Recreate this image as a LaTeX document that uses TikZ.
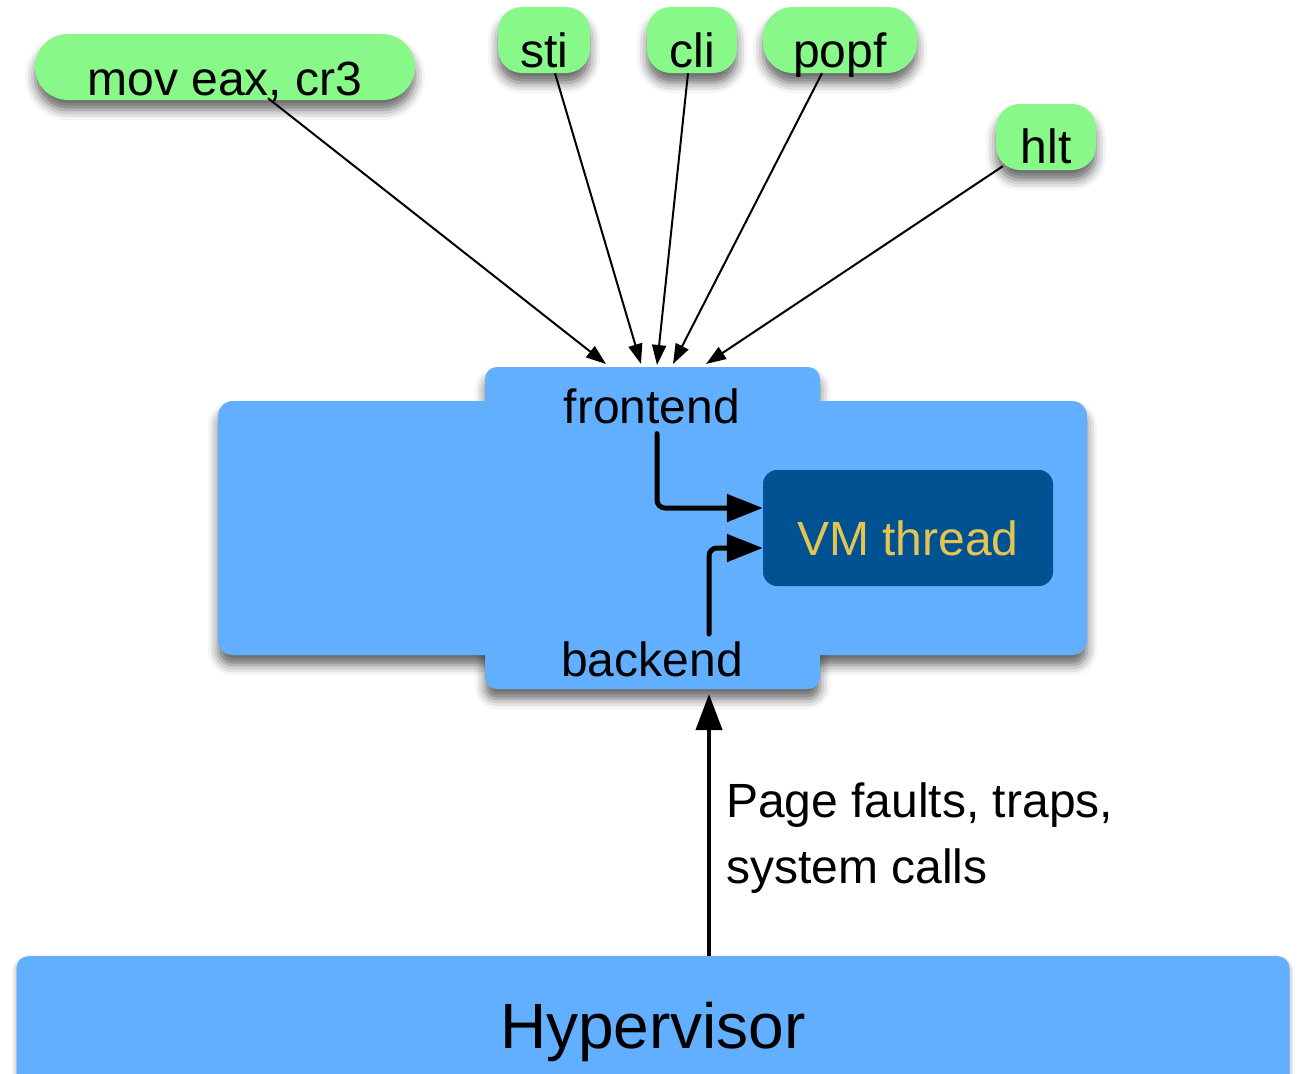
\documentclass[tikz,border=0pt]{standalone}
\usepackage{fontspec}
\setmainfont{Liberation Sans}
\usetikzlibrary{arrows.meta,shadows.blur}
\definecolor{instrgreen}{RGB}{136,248,136}
\definecolor{panelblue}{RGB}{99,175,255}
\definecolor{threadblue}{RGB}{0,82,146}
\definecolor{threadgold}{RGB}{228,196,82}

\begin{document}
\begin{tikzpicture}[x=1pt,y=-1pt,
  softshadow/.style={blur shadow={shadow xshift=0pt,shadow yshift=-10pt,
      shadow blur radius=10pt,shadow opacity=60}},
  bigfont/.style={font=\fontsize{48}{66}\selectfont},
  instr/.style={fill=instrgreen, softshadow, inner sep=0pt, bigfont,
      text height=60pt, text depth=6pt},
  txt/.style={bigfont, inner sep=0pt},
  solidtip/.style={opacity=1, fill opacity=1, draw=black},
  trap/.style={solidtip, line width=2pt,
      -{Triangle[length=20pt,width=14pt,fill=black]}},
  flow/.style={solidtip, line width=5pt, line cap=round, rounded corners=8pt,
      -{Triangle[length=36pt,width=27pt,fill=black]}},
]
\useasboundingbox (0,0) rectangle (1305,1073);

% guest kernel: wide body with frontend/backend tab
\path[softshadow] (218,401) [rounded corners=15pt] rectangle (1087,655);
\path[softshadow] (485,367) [rounded corners=12pt] rectangle (820,689);
\fill[panelblue, rounded corners=15pt] (218,401) rectangle (1087,655);
\fill[panelblue, rounded corners=12pt] (485,367) rectangle (820,689);

% privileged instructions
\node[instr, minimum width=380pt, rounded corners=33pt, text height=61pt, text depth=5pt]
  (mov) at (225,67) {mov eax, cr3};
\node[instr, minimum width=92pt, rounded corners=24pt]  (sti)  at (544,40) {sti};
\node[instr, minimum width=90pt, rounded corners=24pt]  (cli)  at (692,40) {cli};
\node[instr, minimum width=154pt, rounded corners=30pt] (popf) at (840,40) {popf};
\node[instr, minimum width=100pt, rounded corners=24pt, text height=59pt, text depth=7pt]
  (hlt) at (1046,137) {hlt};

% labels and the VM thread
\node[txt, anchor=base] (fe) at (652,423) {frontend};
\node[txt, anchor=base] (be) at (652,676) {backend};
\node[fill=threadblue, rounded corners=14pt, minimum width=290pt, inner sep=0pt,
      text=threadgold, bigfont, text height=85pt, text depth=31pt]
  (vm) at (908,528) {VM thread};

% hypervisor
\node[fill=panelblue, rounded corners=12pt, minimum width=1273pt, inner sep=0pt,
      anchor=north, font=\fontsize{64}{76}\selectfont, text height=92pt, text depth=42pt,
      blur shadow={shadow xshift=0pt,shadow yshift=-3pt,shadow blur radius=5pt,shadow opacity=40}]
  (hv) at (653,956) {Hypervisor};

\node[txt, align=left, anchor=north west] (why) at (726,783)
  {Page faults, traps,\\system calls};

% trap targets on top of the frontend tab
\coordinate (in1) at (606,364);
\coordinate (in2) at (641,364);
\coordinate (in3) at (657,365);
\coordinate (in4) at (673,364);
\coordinate (in5) at (706,364);
\coordinate (tabin) at (709,694);

\draw[trap] ([xshift=43pt,yshift=2pt]mov.south) -- (in1);
\draw[trap] ([xshift=11pt]sti.south) -- (in2);
\draw[trap] ([xshift=-4pt]cli.south) -- (in3);
\draw[trap] ([xshift=-18pt]popf.south) -- (in4);
\draw[trap] ([xshift=7pt,yshift=4pt]hlt.south west) -- (in5);

% dispatch into the VM thread
\draw[flow] ([xshift=5pt,yshift=-10pt]fe.south) |- ([yshift=20pt]vm.west);
\draw[flow] ([xshift=57pt,yshift=7pt]be.north) |- ([yshift=-20pt]vm.west);

% events from the hypervisor
\draw[solidtip, line width=4pt, -{Triangle[length=36pt,width=26pt,fill=black]}]
  ([xshift=56pt]hv.north) -- (tabin);
\end{tikzpicture}
\end{document}
